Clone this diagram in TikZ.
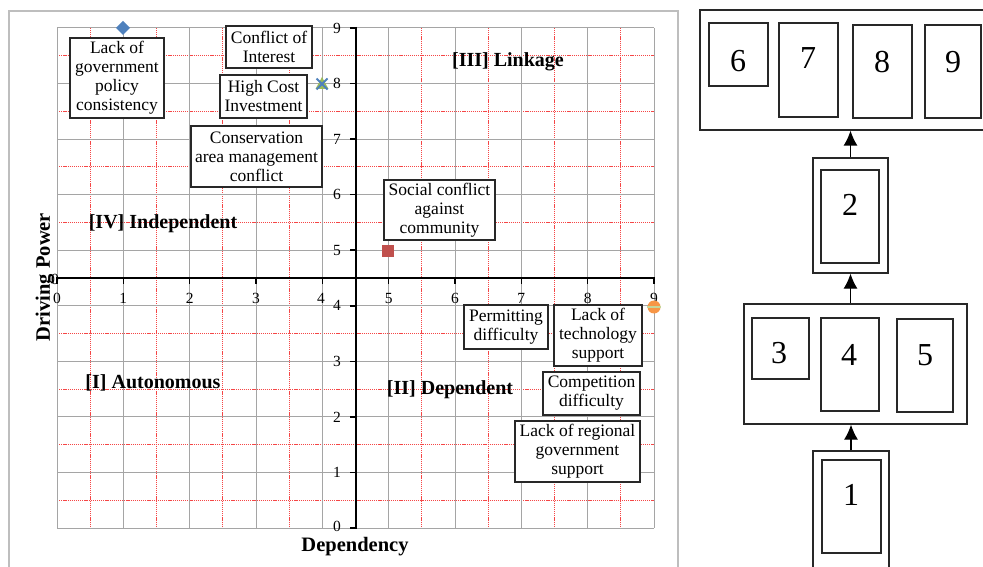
\documentclass[tikz,border=0pt]{standalone}
\usepackage{fontspec}
\setmainfont{Liberation Serif}
\usetikzlibrary{arrows.meta}
\definecolor{gridgray}{RGB}{165,165,165}
\definecolor{gridred}{RGB}{245,70,70}
\definecolor{framegray}{RGB}{190,190,190}
\definecolor{boxline}{RGB}{40,40,40}
\definecolor{mblue}{RGB}{79,129,189}
\definecolor{mred}{RGB}{192,80,77}
\definecolor{mgreen}{RGB}{155,187,89}
\definecolor{morange}{RGB}{247,150,70}
\definecolor{mlgreen}{RGB}{195,214,155}
\tikzset{
  gridline/.style={gridgray, line width=1pt},
  reddot/.style={gridred, line width=1pt, dash pattern=on 1.2pt off 0.9pt},
  axisline/.style={black, line width=2pt},
  ticklab/.style={font=\fontsize{15.5}{18}\selectfont, inner sep=0pt},
  tbox/.style={draw=boxline, line width=1.2pt, fill=white, align=center, inner sep=0pt,
    font=\fontsize{17.5}{19}\selectfont},
  qlab/.style={font=\fontsize{20}{24}\selectfont\bfseries, inner sep=0pt},
  axtitle/.style={font=\fontsize{20.5}{24}\selectfont\bfseries, inner sep=0pt},
  bx/.style={draw=boxline, line width=1.3pt, inner sep=0pt},
  dig/.style={font=\fontsize{32}{36}\selectfont, inner sep=0pt},
  arr/.style={-{Latex[length=15pt,width=14pt]}, line width=1.3pt, black}
}
\begin{document}
\begin{tikzpicture}[x=1pt,y=-1pt]
\useasboundingbox (0,0) rectangle (983,567);
% chart frame
\draw[framegray, line width=1.5pt] (9,600) -- (9,11) -- (678,11) -- (678,600);
% grid
\foreach \i in {0,...,8} {
  \pgfmathsetmacro\xx{57+66.333*(\i+0.5)}
  \draw[reddot] (\xx,28) -- (\xx,528);
  \pgfmathsetmacro\yy{528-55.556*(\i+0.5)}
  \draw[reddot] (57,\yy) -- (654,\yy);
}
\foreach \i in {0,...,9} {
  \pgfmathsetmacro\xx{57+66.333*\i}
  \draw[gridline] (\xx,28) -- (\xx,528);
  \pgfmathsetmacro\yy{528-55.556*\i}
  \draw[gridline] (57,\yy) -- (654,\yy);
}
\node[ticklab] (z0) at (55,279) {0};
% axes
\draw[axisline] (57,278) -- (655,278);
\draw[axisline] (355.5,27) -- (355.5,529);
\foreach \i in {0,...,9} {
  \pgfmathsetmacro\xx{57+66.333*\i}
  \draw[black, line width=1.5pt] (\xx,277) -- (\xx,284);
  \pgfmathsetmacro\yy{528-55.556*\i}
  \draw[black, line width=1.5pt] (350,\yy) -- (355.5,\yy);
}
% tick labels
\foreach \i in {0,1,2,3,5,6,7,8,9} {
  \pgfmathsetmacro\xx{57+66.333*\i}
  \node[ticklab] (hx\i) at (\xx,298) {\i};
}
\node[ticklab] (hx4) at (321,298) {4};
\foreach \i in {1,...,9} {
  \pgfmathsetmacro\yy{528-55.556*\i}
  \node[ticklab] (vy\i) at (337,\yy) {\i};
}
\node[ticklab] (vy0) at (337,526) {0};
% axis titles
\node[axtitle] (xt) at (355,547) {Dependency};
\node[axtitle, rotate=90] (yt) at (45,277) {Driving Power};
% quadrant labels
\node[qlab] (q3) at (508,62) {[III] Linkage};
\node[qlab] (q4) at (163,224) {[IV] Independent};
\node[qlab] (q1) at (153,383) {[I] Autonomous};
\node[qlab] (q2) at (450,390) {[II] Dependent};
% text boxes
\node[tbox, minimum width=94pt, minimum height=80pt] (t1) at (117,78) {Lack of\\government\\policy\\consistency};
\node[tbox, minimum width=86pt, minimum height=42pt] (t2) at (269,47) {Conflict of\\Interest};
\node[tbox, minimum width=87pt, minimum height=43pt] (t3) at (263.5,96.5) {High Cost\\Investment};
\node[tbox, minimum width=131pt, minimum height=61pt] (t4) at (256.5,156.5) {Conservation\\area management\\conflict};
\node[tbox, minimum width=111pt, minimum height=60pt] (t5) at (439.5,210) {Social conflict\\against\\community};
\node[tbox, minimum width=84pt, minimum height=44pt] (t6) at (506,327) {Permitting\\difficulty};
\node[tbox, minimum width=88pt, minimum height=61pt] (t7) at (598,335.5) {Lack of\\technology\\support};
\node[tbox, minimum width=97pt, minimum height=43pt] (t8) at (591.5,393.5) {Competition\\difficulty};
\node[tbox, minimum width=125pt, minimum height=61pt] (t9) at (577.5,451.5) {Lack of regional\\government\\support};
% markers
\fill[mblue] (123,21) -- (130,28) -- (123,35) -- (116,28) -- cycle;
\fill[mgreen] (322,77) -- (328.5,89) -- (315.5,89) -- cycle;
\draw[mblue, line width=1.8pt] (316.5,78.5) -- (327.5,89.5) (327.5,78.5) -- (316.5,89.5);
\fill[mred] (382,245) rectangle (394,257);
\fill[morange] (654,307) circle (6.5pt);
\draw[mlgreen, line width=2pt] (647,307) -- (661,307);
% right diagram
\node[bx, minimum width=295pt, minimum height=120pt] (top) at (847.5,70) {};
\node[bx, minimum width=59pt, minimum height=63pt] (b6) at (738.5,54.5) {};
\node[bx, minimum width=59pt, minimum height=94pt] (b7) at (808.5,70) {};
\node[bx, minimum width=59pt, minimum height=93pt] (b8) at (882.5,71.5) {};
\node[bx, minimum width=56pt, minimum height=93pt] (b9) at (953,71.5) {};
\node[dig] (d6) at (738,61) {6};
\node[dig] (d7) at (808,58) {7};
\node[dig] (d8) at (882,62) {8};
\node[dig] (d9) at (953,62) {9};
\node[bx, minimum width=75pt, minimum height=115pt] (b2o) at (850.5,215.5) {};
\node[bx, minimum width=58pt, minimum height=93pt] (b2) at (850,216.5) {};
\node[dig] (d2) at (850,205) {2};
\node[bx, minimum width=223pt, minimum height=120pt] (mid) at (855.5,364) {};
\node[bx, minimum width=57pt, minimum height=61pt] (b3) at (780.5,348.5) {};
\node[bx, minimum width=58pt, minimum height=93pt] (b4) at (850,364.5) {};
\node[bx, minimum width=56pt, minimum height=93pt] (b5) at (925,365.5) {};
\node[dig] (d3) at (779,353.5) {3};
\node[dig] (d4) at (849,355) {4};
\node[dig] (d5) at (925,355) {5};
\node[bx, minimum width=76pt, minimum height=129pt] (b1o) at (851,515.5) {};
\node[bx, minimum width=59pt, minimum height=93pt] (b1) at (851.5,506.5) {};
\node[dig] (d1) at (851,495) {1};
% arrows
\draw[arr] (b1o.north) -- (b1o.north |- mid.south);
\draw[arr] (b2o.south |- mid.north) -- (b2o.south);
\draw[arr] (b2o.north) -- (b2o.north |- top.south);
\end{tikzpicture}
\end{document}
